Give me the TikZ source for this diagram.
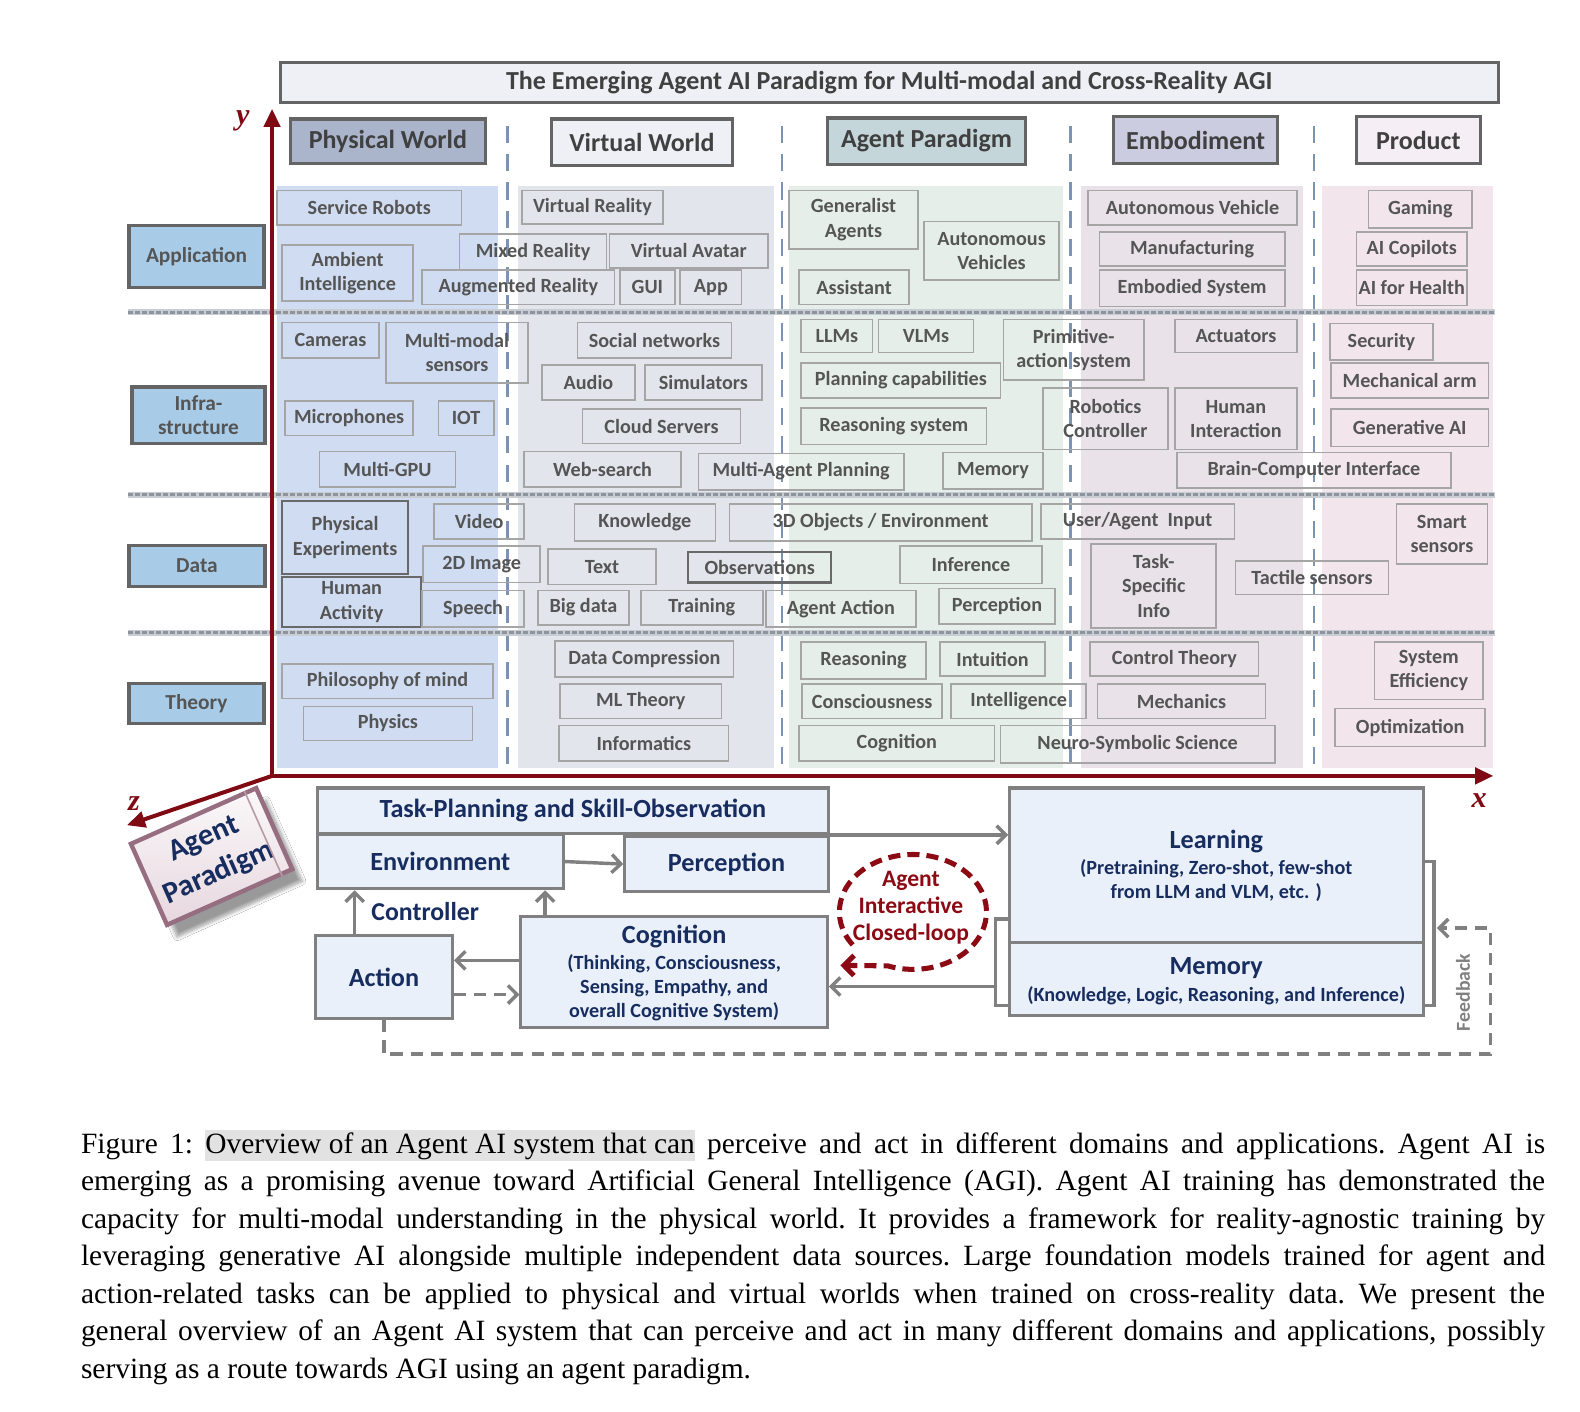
\documentclass[tikz,border=0pt]{standalone}
\usepackage{fontspec}
\setmainfont{Liberation Serif}
\newfontfamily\calf{Carlito}
\usetikzlibrary{arrows.meta,calc,shadows.blur}
\definecolor{axred}{RGB}{128,10,20}
\definecolor{sepblue}{RGB}{125,148,176}
\definecolor{rowsep}{RGB}{142,148,158}
\definecolor{rowsepl}{RGB}{200,204,211}
\definecolor{itemb}{RGB}{165,165,165}
\definecolor{itemd}{RGB}{105,105,105}
\definecolor{itemt}{RGB}{85,85,85}
\definecolor{hdrb}{RGB}{100,100,100}
\definecolor{hdrt}{RGB}{64,64,64}
\definecolor{pPhys}{RGB}{208,220,241}
\definecolor{pVirt}{RGB}{226,229,236}
\definecolor{pAgent}{RGB}{229,238,232}
\definecolor{pEmb}{RGB}{233,227,233}
\definecolor{pProd}{RGB}{242,230,236}
\definecolor{hPhys}{RGB}{170,180,203}
\definecolor{hVirt}{RGB}{239,240,246}
\definecolor{hAgent}{RGB}{197,214,218}
\definecolor{hEmb}{RGB}{203,204,224}
\definecolor{hProd}{RGB}{245,239,245}
\definecolor{rowlab}{RGB}{168,204,232}
\definecolor{navy}{RGB}{23,45,95}
\definecolor{flowb}{RGB}{128,128,128}
\definecolor{flowf}{RGB}{234,240,249}
\definecolor{hlgray}{RGB}{226,226,226}
\definecolor{loopred}{RGB}{140,10,20}
\definecolor{pmauve}{RGB}{190,150,168}
\definecolor{pedge}{RGB}{150,110,128}
\newsavebox\hlbox
\newcommand\hltext[1]{\sbox\hlbox{#1}\rlap{\textcolor{hlgray}{\rule[-4pt]{\wd\hlbox}{15.5pt}}}\usebox\hlbox}
\newlength\capw
\setlength\capw{726.5pt}
% box node from corner coordinates: style, name, x1, y1, x2, y2, text
\newcommand\bxn[7]{\node[#1, minimum width={(#5-#3)*0.5pt}, minimum height={(#6-#4)*0.5pt}] (#2) at ({(#3+#5)/2},{(#4+#6)/2}) {#7};}
\begin{document}
\begin{tikzpicture}[x=0.5pt,y=-0.5pt,
  item/.style={draw=itemb, line width=0.8pt, inner sep=0pt, align=center, text=itemt,
     font=\calf\bfseries\fontsize{10}{12}\selectfont},
  itemdk/.style={item, draw=itemd, line width=1.1pt},
  hdr/.style={draw=hdrb, line width=1.6pt, inner sep=0pt, text=hdrt,
     font=\calf\bfseries\fontsize{12.9}{14}\selectfont},
  rowl/.style={draw=hdrb, line width=1.6pt, fill=rowlab, inner sep=0pt, align=center, text=itemt,
     font=\calf\bfseries\fontsize{10.6}{12}\selectfont},
  flow/.style={draw=flowb, line width=1.5pt, fill=flowf, inner sep=0pt, align=center, text=navy,
     font=\calf\bfseries\fontsize{13}{14}\selectfont},
  flowt/.style={text=navy, inner sep=0pt, font=\calf\bfseries\fontsize{13}{14}\selectfont},
  flows/.style={text=navy, inner sep=0pt, align=center, font=\calf\bfseries\fontsize{10}{12}\selectfont},
  arr/.style={draw=flowb, line width=1.7pt, -{Straight Barb[length=4.5pt,width=9pt]}},
  darr/.style={arr, dash pattern=on 6pt off 4pt},
  axis/.style={draw=axred, line width=2pt, -{Triangle[length=9pt,width=8pt]}},
  colsep/.style={draw=sepblue, line width=1.4pt, dash pattern=on 8.5pt off 5.5pt},
  rsepl/.style={draw=rowsepl, line width=3pt},
  rsep/.style={draw=rowsep, line width=1.3pt, dash pattern=on 2.5pt off 1pt},
  axlab/.style={text=axred, font=\bfseries\itshape\fontsize{15}{15}\selectfont}]
\useasboundingbox (0,0) rectangle (1568,1401);
\fill[white] (0,0) rectangle (1568,1401);

% panels
\fill[pPhys] (275,185) rectangle (494,762);
\fill[pVirt] (514,185) rectangle (768,762);
\fill[pAgent] (783,185) rectangle (1055,762);
\fill[pEmb] (1073,185) rectangle (1293,762);
\fill[pProd] (1312,185) rectangle (1482,762);

% column separators
\foreach \xx in {504,776,1062,1304} \draw[colsep] (\xx,125) -- (\xx,765);
% row separators
\foreach \yy in {310,491,628} {\draw[rsepl] (127,\yy) -- (1484,\yy); \draw[rsep] (127,\yy) -- (1484,\yy);}

% title and headers
\bxn{hdr, fill=hVirt}{title}{278}{62}{1487}{102}{The Emerging Agent AI Paradigm for Multi-modal and Cross-Reality AGI}
\bxn{hdr, fill=hPhys}{hphys}{288}{118}{482}{162}{Physical World}
\bxn{hdr, fill=hVirt}{hvirt}{547}{118}{727}{164}{Virtual World}
\bxn{hdr, fill=hAgent}{hagent}{821}{117}{1018}{163}{Agent Paradigm}
\bxn{hdr, fill=hEmb}{hemb}{1105}{116}{1268}{162}{Embodiment}
\bxn{hdr, fill=hProd}{hprod}{1346}{116}{1469}{162}{Product}

% row labels
\bxn{rowl}{rapp}{128}{224}{262}{285}{Application}
\bxn{rowl}{rinf}{131}{384}{263}{440}{Infra-\\structure}
\bxn{rowl}{rdata}{128}{541}{263}{582}{Data}
\bxn{rowl}{rth}{128}{678}{262}{718}{Theory}

% Application row
\bxn{item}{i1}{275}{189}{458}{223}{Service Robots}
\bxn{item}{i2}{280}{243}{410}{299}{Ambient\\Intelligence}
\bxn{item}{i3}{518}{189}{658}{222}{Virtual Reality}
\bxn{item}{i4}{456}{232}{602}{268}{Mixed Reality}
\bxn{item}{i5}{605}{232}{762}{266}{Virtual Avatar}
\bxn{item}{i6}{419}{268}{610}{302}{Augmented Reality}
\bxn{item}{i7}{615}{268}{670}{302}{GUI}
\bxn{item}{i8}{675}{268}{736}{302}{App}
\bxn{item}{i9}{783}{189}{911}{247}{Generalist\\Agents}
\bxn{item}{i10}{917}{220}{1051}{278}{Autonomous\\Vehicles}
\bxn{item}{i11}{793}{268}{902}{302}{Assistant}
\bxn{item}{i12}{1080}{189}{1287}{223}{Autonomous Vehicle}
\bxn{item}{i13}{1091}{230}{1275}{264}{Manufacturing}
\bxn{item}{i14}{1091}{268}{1275}{304}{Embodied System}
\bxn{item}{i15}{1358}{189}{1461}{226}{Gaming}
\bxn{item}{i16}{1346}{230}{1456}{264}{AI Copilots}
\bxn{item}{i17}{1346}{268}{1456}{303}{AI for Health}

% Infrastructure row
\bxn{item}{j1}{280}{320}{376}{355}{Cameras}
\bxn{item}{j2}{383}{320}{524}{380}{Multi-modal\\sensors}
\bxn{item}{j3}{283}{398}{410}{432}{Microphones}
\bxn{item}{j4}{435}{398}{490}{432}{IOT}
\bxn{item}{j5}{317}{448}{452}{483}{Multi-GPU}
\bxn{item}{j6}{573}{320}{726}{355}{Social networks}
\bxn{item}{j7}{538}{362}{630}{397}{Audio}
\bxn{item}{j8}{640}{362}{756}{397}{Simulators}
\bxn{item}{j9}{578}{406}{735}{440}{Cloud Servers}
\bxn{item}{j10}{520}{448}{676}{483}{Web-search}
\bxn{item}{j11}{693}{450}{897}{486}{Multi-Agent Planning}
\bxn{item}{j12}{795}{317}{866}{350}{LLMs}
\bxn{item}{j13}{872}{317}{966}{350}{VLMs}
\bxn{item}{j14}{795}{360}{993}{395}{Planning capabilities}
\bxn{item}{j15}{795}{405}{979}{441}{Reasoning system}
\bxn{item}{j16}{936}{449}{1035}{485}{Memory}
\bxn{item}{j17}{996}{317}{1135}{377}{Primitive-\\action system}
\bxn{item}{j18}{1166}{317}{1287}{350}{Actuators}
\bxn{item}{j19}{1035}{385}{1159}{446}{Robotics\\Controller}
\bxn{item}{j20}{1166}{385}{1287}{446}{Human\\Interaction}
\bxn{item}{j21}{1168}{449}{1440}{484}{Brain-Computer Interface}
\bxn{item}{j22}{1320}{321}{1422}{357}{Security}
\bxn{item}{j23}{1321}{360}{1477}{395}{Mechanical arm}
\bxn{item}{j24}{1321}{406}{1477}{443}{Generative AI}

% Data row
\bxn{itemdk}{k1}{280}{497}{405}{570}{Physical\\Experiments}
\bxn{item}{k2}{431}{500}{520}{535}{Video}
\bxn{item}{k3}{420}{542}{536}{578}{2D Image}
\bxn{itemdk}{k4}{280}{573}{418}{622}{Human\\Activity}
\bxn{item}{k5}{419}{586}{520}{622}{Speech}
\bxn{item}{k6}{570}{500}{710}{537}{Knowledge}
\bxn{item}{k7}{544}{545}{651}{580}{Text}
\bxn{itemdk}{k8}{683}{548}{825}{578}{Observations}
\bxn{item}{k9}{534}{586}{624}{620}{Big data}
\bxn{item}{k10}{636}{586}{757}{620}{Training}
\bxn{item}{k11}{724}{500}{1024}{537}{3D Objects / Environment}
\bxn{item}{k12}{893}{542}{1034}{579}{Inference}
\bxn{item}{k13}{760}{586}{909}{622}{Agent Action}
\bxn{item}{k14}{932}{584}{1047}{619}{Perception}
\bxn{item}{k15}{1033}{500}{1225}{535}{User/Agent~ Input}
\bxn{item}{k16}{1083}{540}{1207}{623}{Task-\\Specific\\Info}
\bxn{item}{k17}{1226}{557}{1378}{590}{Tactile sensors}
\bxn{item}{k18}{1386}{500}{1476}{560}{Smart\\sensors}

% Theory row
\bxn{item}{t1}{280}{659}{489}{693}{Philosophy of mind}
\bxn{item}{t2}{301}{701}{469}{735}{Physics}
\bxn{item}{t3}{551}{636}{728}{672}{Data Compression}
\bxn{item}{t4}{556}{679}{716}{713}{ML Theory}
\bxn{item}{t5}{555}{720}{723}{755}{Informatics}
\bxn{item}{t6}{795}{637}{919}{674}{Reasoning}
\bxn{item}{t7}{933}{637}{1037}{671}{Intuition}
\bxn{item}{t8}{796}{679}{935}{713}{Consciousness}
\bxn{item}{t9}{944}{679}{1078}{713}{Intelligence}
\bxn{item}{t10}{793}{720}{987}{755}{Cognition}
\bxn{item}{t11}{993}{720}{1265}{757}{Neuro-Symbolic Science}
\bxn{item}{t12}{1082}{637}{1249}{671}{Control Theory}
\bxn{item}{t13}{1089}{679}{1256}{713}{Mechanics}
\bxn{item}{t14}{1364}{637}{1472}{694}{System\\Efficiency}
\bxn{item}{t15}{1325}{703}{1474}{741}{Optimization}

% Agent Paradigm block (under the z axis)
\node[blur shadow={shadow xshift=5pt, shadow yshift=-6pt, shadow blur steps=8, shadow opacity=40},
  rotate=24, minimum width=68pt, minimum height=44pt, draw=pedge, line width=2.2pt,
  top color=white!94!pmauve, bottom color=white!62!pmauve, text=navy, align=center,
  font=\calf\bfseries\fontsize{15}{18.5}\selectfont] (apb) at (210,850) {Agent\\Paradigm};
\draw[pedge!70, line width=0.8pt] ($(apb.north east)!0.1!(apb.north west)$) -- ($(apb.south east)!0.1!(apb.south west)$);

% axes
\coordinate (o) at (270,770);
\coordinate (ytip) at (270,108);
\coordinate (xtip) at (1482,770);
\coordinate (ztip) at (126,819);
\draw[axis] (o) -- (ytip);
\draw[axis] (o) -- (xtip);
\draw[axis] (o) -- (ztip);
\node[axlab] (ylab) at (241,120) {y};
\node[axlab] (xlab) at (1468,794) {x};
\node[axlab] (zlab) at (133,797) {z};

% flow boxes
\bxn{flow}{tp}{315}{782}{822}{827}{Task-Planning and Skill-Observation}
\bxn{flow}{env}{315}{828}{559}{882}{Environment}
\bxn{flow}{perc}{620}{830}{822}{885}{Perception}
\bxn{flow}{act}{313}{928}{449}{1011}{Action}
\bxn{flow}{cog}{517}{910}{821}{1020}{}
\bxn{flow}{learn}{1002}{782}{1413}{935}{}
\bxn{flow}{mem}{1002}{935}{1413}{1008}{}
\node[flowt] (cogt) at (669,929) {Cognition};
\node[flows] (cogs) at (669,980) {(Thinking, Consciousness,\\ Sensing, Empathy, and\\ overall Cognitive System)};
\node[flowt] (learnt) at (1207,835) {Learning};
\node[flows] (learns) at (1207,874) {(Pretraining, Zero-shot, few-shot\\ from LLM and VLM, etc. )};
\node[flowt] (memt) at (1207,961) {Memory};
\node[flows] (mems) at (1207,988) {(Knowledge, Logic, Reasoning, and Inference)};
\node[text=loopred, align=center, font=\calf\bfseries\fontsize{11.7}{13.5}\selectfont] (loop) at (904,901) {Agent\\Interactive\\Closed-loop};
\node[text=navy, font=\calf\bfseries\fontsize{12.8}{14}\selectfont] (ctrl) at (422,905) {Controller};
\node[rotate=90, text=flowb, font=\calf\bfseries\fontsize{9.8}{11}\selectfont] (fb) at (1452,985) {Feedback};

% loop
\draw[draw=loopred, line width=2.5pt, dash pattern=on 6pt off 3.5pt, -{Straight Barb[length=5pt,width=10pt]}]
  (906,905) ++(-215:73 and 57) arc[start angle=-215, end angle=110, x radius=73, y radius=57] -- (834,958);

% connectors
\draw[arr] (env.east) -- (perc.west);
\draw[arr] (tp.south east) -- (tp.south east -| learn.west);
\coordinate (actup) at (352,928);
\draw[arr] (actup) -- (actup |- env.south);
\coordinate (cogup) at (541,910);
\draw[arr] (cogup) -- (cogup |- env.south);
\coordinate (c1) at (517,953);
\draw[arr] (c1) -- (c1 -| act.east);
\coordinate (c2) at (450,987);
\draw[darr] (c2) -- (c2 -| cog.west);
% brackets
\coordinate (lb) at (988,979);
\draw[draw=flowb, line width=1.7pt] (1002,912) -- (988,912) -- (988,998) -- (1002,998);
\draw[arr] (lb) -- (lb -| cog.east);
\draw[draw=flowb, line width=1.7pt] (1413,855) -- (1423,855) -- (1423,998) -- (1413,998);
% feedback
\coordinate (fb1) at (381,1046);
\coordinate (fb2) at (1479,1046);
\coordinate (fb3) at (1479,921);
\coordinate (fb4) at (1426,921);
\draw[darr] (act.south -| fb1) -- (fb1) -- (fb2) -- (fb3) -- (fb4);

% caption
\node[anchor=north west, inner sep=0pt, text width=\capw,
  font=\fontsize{14.6}{18.6}\selectfont] (cap) at (80,1121) {%
\frenchspacing\spaceskip=3.65pt plus 4pt minus 1.2pt\relax
\hbox to\capw{Figure 1: \hltext{Overview of an Agent AI system that can} perceive and act in different domains and applications. Agent AI is}
\hbox to\capw{emerging as a promising avenue toward Artificial General Intelligence (AGI). Agent AI training has demonstrated the}
\hbox to\capw{capacity for multi-modal understanding in the physical world. It provides a framework for reality-agnostic training by}
\hbox to\capw{leveraging generative AI alongside multiple independent data sources. Large foundation models trained for agent and}
\hbox to\capw{action-related tasks can be applied to physical and virtual worlds when trained on cross-reality data. We present the}
\hbox to\capw{general overview of an Agent AI system that can perceive and act in many different domains and applications, possibly}
\hbox{serving as a route towards AGI using an agent paradigm.}};
\end{tikzpicture}
\end{document}
